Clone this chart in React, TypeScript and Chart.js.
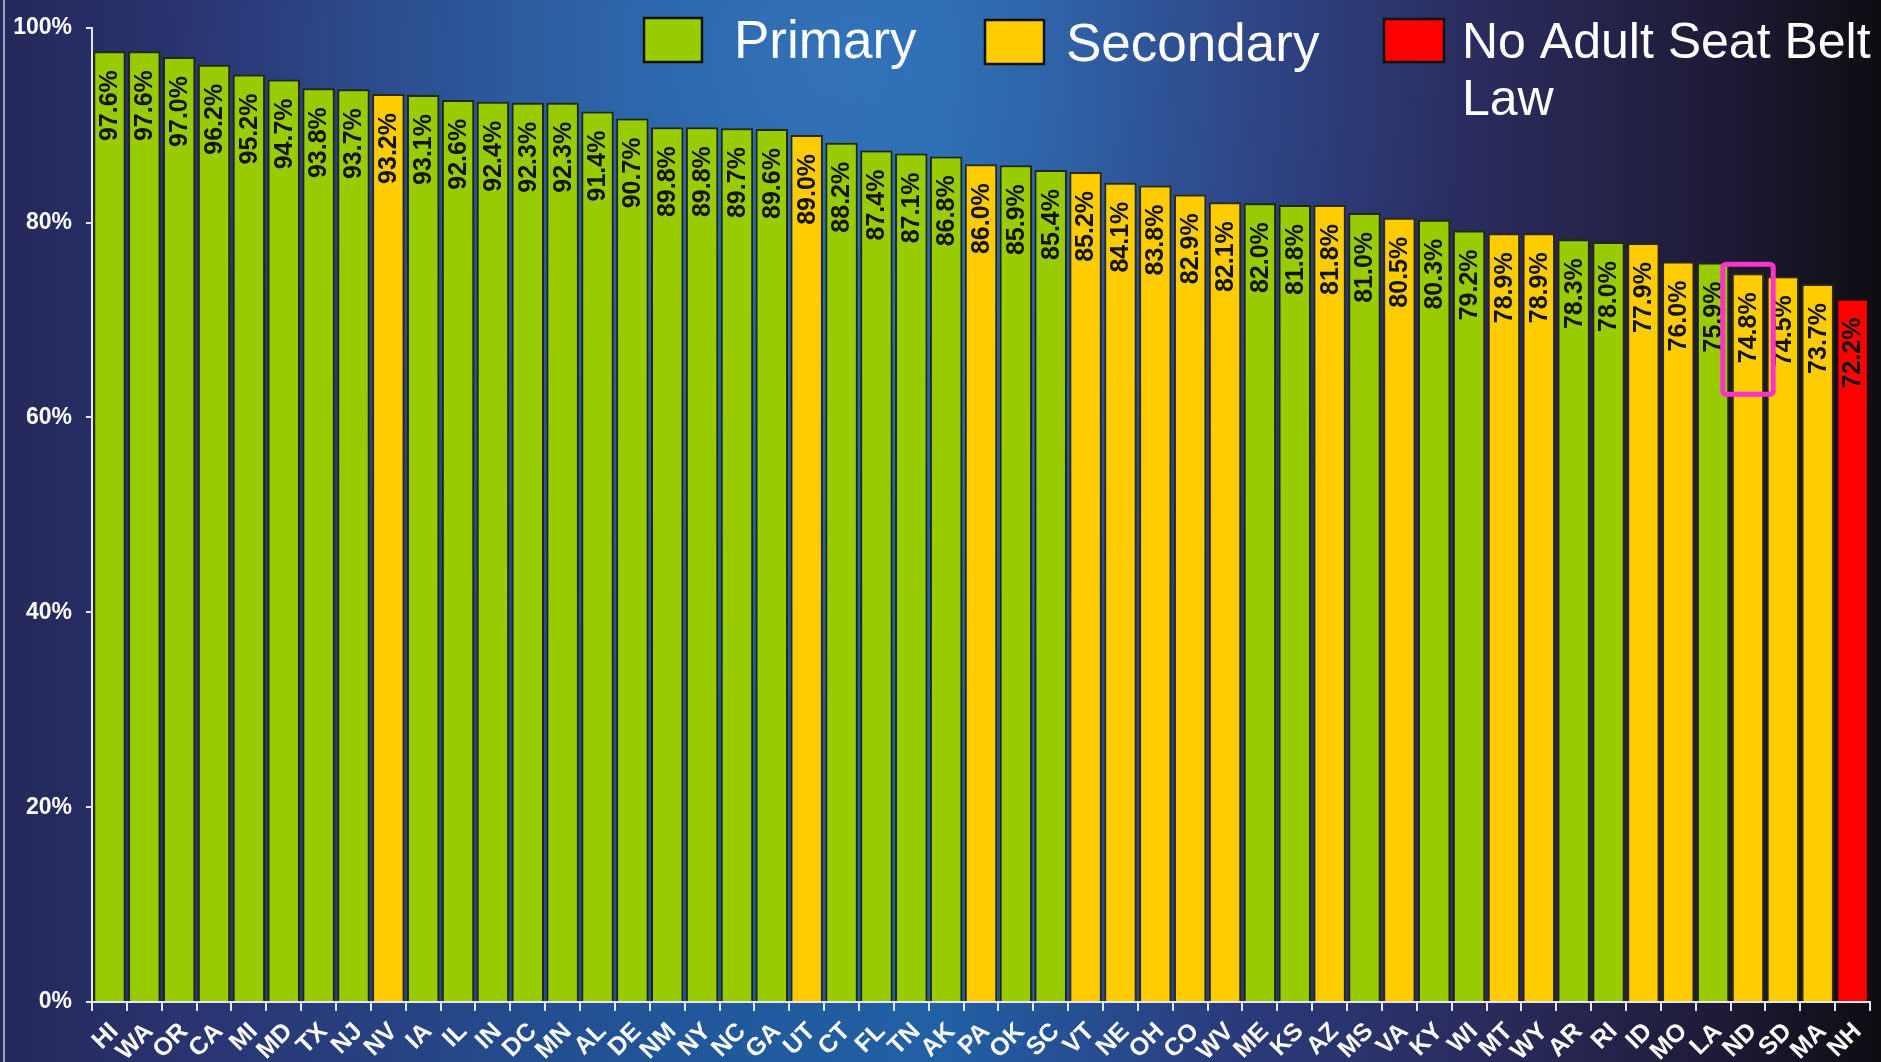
import React, { useEffect, useRef } from 'react';
import { Chart, registerables } from 'chart.js';

Chart.register(...registerables);

const states = ['HI','WA','OR','CA','MI','MD','TX','NJ','NV','IA','IL','IN','DC','MN','AL','DE','NM','NY','NC','GA','UT','CT','FL','TN','AK','PA','OK','SC','VT','NE','OH','CO','WV','ME','KS','AZ','MS','VA','KY','WI','MT','WY','AR','RI','ID','MO','LA','ND','SD','MA','NH'];
const rates = [97.6,97.6,97.0,96.2,95.2,94.7,93.8,93.7,93.2,93.1,92.6,92.4,92.3,92.3,91.4,90.7,89.8,89.8,89.7,89.6,89.0,88.2,87.4,87.1,86.8,86.0,85.9,85.4,85.2,84.1,83.8,82.9,82.1,82.0,81.8,81.8,81.0,80.5,80.3,79.2,78.9,78.9,78.3,78.0,77.9,76.0,75.9,74.8,74.5,73.7,72.2];
// P = Primary, S = Secondary, N = No adult seat belt law
const lawTypes = ['P','P','P','P','P','P','P','P','S','P','P','P','P','P','P','P','P','P','P','P','S','P','P','P','P','S','P','P','S','S','S','S','S','P','P','S','P','S','P','P','S','S','P','P','S','S','P','S','S','S','N'];
const legendLabels = ['Primary', 'Secondary', 'No Adult Seat Belt Law'];
const legendKeys = ['P', 'S', 'N'];
const yMin = 0;
const yMax = 100;
const yStep = 20;
const highlightState = 'ND';

const FILL: Record<string, string> = { P: '#99cc00', S: '#ffcc00', N: '#ff0000' };
const EDGE: Record<string, string> = { P: '#222800', S: '#302800', N: '#300404' };
const FONT = '"Liberation Sans", Arial, Helvetica, sans-serif';

const backgroundPlugin = {
  id: 'bgPlugin',
  beforeDraw(chart: any) {
    const { ctx, width, height } = chart;
    ctx.save();
    const g = ctx.createLinearGradient(0, 0, width, 0);
    g.addColorStop(0, '#25285a');
    g.addColorStop(0.12, '#2a3674');
    g.addColorStop(0.35, '#215699');
    g.addColorStop(0.5, '#2260a6');
    g.addColorStop(0.66, '#2a3a7a');
    g.addColorStop(0.8, '#2a2a5a');
    g.addColorStop(0.92, '#1c1a34');
    g.addColorStop(1, '#0d0d12');
    ctx.fillStyle = g;
    ctx.fillRect(0, 0, width, height);
    const r = ctx.createRadialGradient(820, 60, 0, 820, 60, 650);
    r.addColorStop(0, 'rgba(70,140,210,0.45)');
    r.addColorStop(1, 'rgba(70,140,210,0)');
    ctx.fillStyle = r;
    ctx.fillRect(0, 0, width, height);
    ctx.strokeStyle = '#c8cad8';
    ctx.lineWidth = 1.5;
    ctx.beginPath();
    ctx.moveTo(4, 0);
    ctx.lineTo(4, height);
    ctx.stroke();
    ctx.restore();
  },
};

const labelPlugin = {
  id: 'valueLabels',
  afterDatasetsDraw(chart: any) {
    const { ctx } = chart;
    const meta = chart.getDatasetMeta(0);
    ctx.save();
    ctx.font = `bold 25px ${FONT}`;
    ctx.fillStyle = '#141400';
    ctx.textAlign = 'right';
    ctx.textBaseline = 'middle';
    meta.data.forEach((bar: any, i: number) => {
      ctx.save();
      ctx.translate(bar.x + 1, bar.y + 19);
      ctx.rotate(-Math.PI / 2);
      ctx.fillText(rates[i].toFixed(1) + '%', 0, 0);
      ctx.restore();
    });
    const hi = states.indexOf(highlightState);
    if (hi >= 0) {
      const bar: any = meta.data[hi];
      const half = bar.width / 2 + 9;
      ctx.strokeStyle = '#ff33cc';
      ctx.lineWidth = 5;
      ctx.beginPath();
      const x0 = bar.x - half, y0 = bar.y - 9, w = half * 2, h = 130;
      if (ctx.roundRect) ctx.roundRect(x0, y0, w, h, 3); else ctx.rect(x0, y0, w, h);
      ctx.stroke();
    }
    ctx.restore();
  },
};

const legendPlugin = {
  id: 'customLegend',
  afterDraw(chart: any) {
    const { ctx } = chart;
    ctx.save();
    const items = [
      { box: [644, 18, 58, 44], tx: 734, ty: 58, size: 53 },
      { box: [985, 20, 59, 44], tx: 1066, ty: 61, size: 53 },
      { box: [1384, 19, 60, 43], tx: 1462, ty: 58, size: 50 },
    ];
    items.forEach((it, i) => {
      const [x, y, w, h] = it.box;
      ctx.fillStyle = FILL[legendKeys[i]];
      ctx.fillRect(x, y, w, h);
      ctx.strokeStyle = '#111';
      ctx.lineWidth = 2.5;
      ctx.strokeRect(x, y, w, h);
      ctx.fillStyle = '#ffffff';
      ctx.font = `${it.size}px ${FONT}`;
      ctx.textAlign = 'left';
      ctx.textBaseline = 'alphabetic';
      if (i === 2) {
        ctx.fillText('No Adult Seat Belt', it.tx, it.ty);
        ctx.fillText('Law', it.tx, it.ty + 57);
      } else {
        ctx.fillText(legendLabels[i], it.tx, it.ty);
      }
    });
    ctx.restore();
  },
};

export default function App() {
  const ref = useRef<HTMLCanvasElement>(null);
  useEffect(() => {
    document.body.style.margin = '0';
    const canvas = ref.current;
    if (!canvas) return;
    const chart = new Chart(canvas, {
      type: 'bar',
      data: {
        labels: states,
        datasets: [
          {
            label: 'Seat belt use',
            data: rates,
            backgroundColor: lawTypes.map((t) => FILL[t]),
            borderColor: lawTypes.map((t) => EDGE[t]),
            borderWidth: 2,
            barPercentage: 0.93,
            categoryPercentage: 1.0,
          },
        ],
      },
      options: {
        responsive: false,
        devicePixelRatio: 1,
        animation: false,
        layout: { padding: { top: 22, right: 11, left: 0, bottom: 0 } },
        plugins: { legend: { display: false }, tooltip: { enabled: false } },
        scales: {
          x: {
            offset: true,
            grid: { offset: true, drawOnChartArea: false, color: '#e6e6ee', lineWidth: 2, tickLength: 9 },
            border: { color: '#e6e6ee', width: 2 },
            ticks: {
              color: '#ffffff',
              font: { family: FONT, size: 25, weight: 'bold' },
              minRotation: 45,
              maxRotation: 45,
              autoSkip: false,
              padding: 6,
              labelOffset: 5,
            },
            afterFit(scale: any) { scale.height = 60; },
          },
          y: {
            min: yMin,
            max: yMax,
            grid: { drawOnChartArea: false, color: '#e6e6ee', lineWidth: 2, tickLength: 6 },
            border: { color: '#e6e6ee', width: 2 },
            ticks: {
              stepSize: yStep,
              color: '#ffffff',
              font: { family: FONT, size: 23, weight: 'bold' },
              padding: 14,
              callback: (v: any) => v + '%',
            },
            afterFit(scale: any) { scale.width = 92; },
          },
        },
      },
      plugins: [backgroundPlugin, labelPlugin, legendPlugin],
    });
    return () => chart.destroy();
  }, []);
  return (
    <div style={{ width: 1881, height: 1062 }}>
      <canvas ref={ref} width={1881} height={1062} style={{ display: 'block' }} />
    </div>
  );
}
